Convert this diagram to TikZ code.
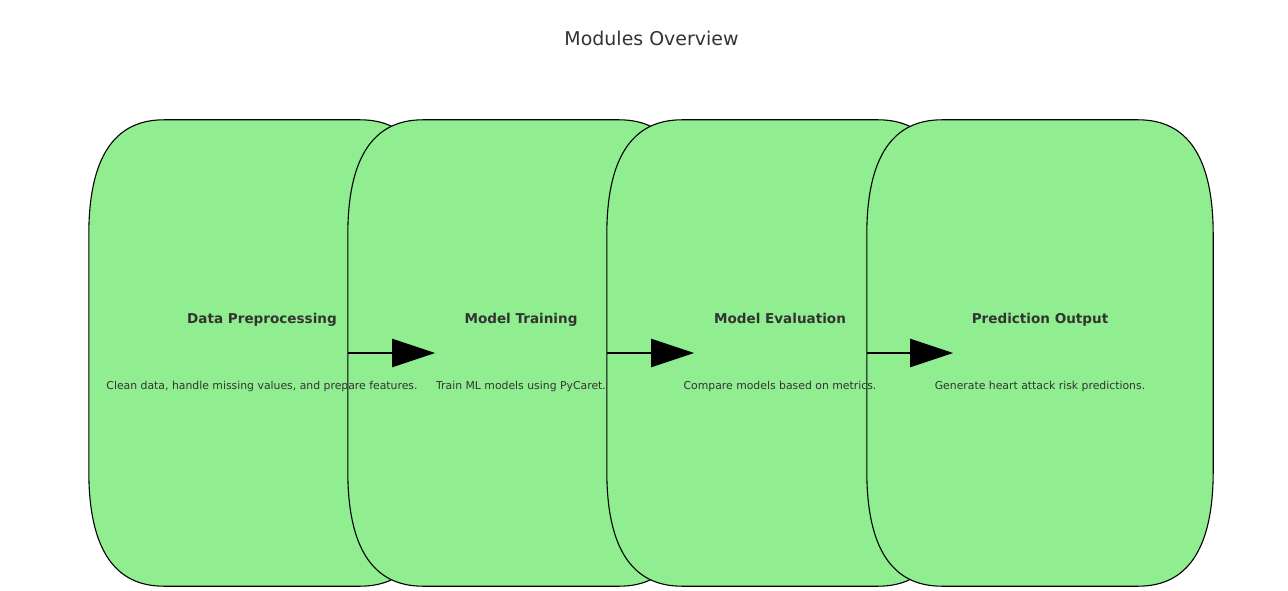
\documentclass[tikz,border=0pt]{standalone}
\usepackage{fontspec}
\setmainfont{DejaVu Sans}
\usetikzlibrary{arrows.meta}
\definecolor{boxgreen}{HTML}{90EE90}
\definecolor{txtgray}{HTML}{333333}
\tikzset{
  x=1pt, y=-1pt,
  boxframe/.style={rectangle, minimum width=346pt, minimum height=466pt, inner sep=0pt},
  boxshape/.style={fill=boxgreen, draw=black, line width=1.1pt},
  lbl/.style={text=txtgray, font=\fontsize{13.55}{16}\selectfont\bfseries, inner sep=0pt, anchor=base},
  desc/.style={text=txtgray, font=\fontsize{10.85}{13}\selectfont, inner sep=0pt, anchor=base},
  ttl/.style={text=txtgray, font=\fontsize{18.95}{22}\selectfont, inner sep=0pt, anchor=base},
  arr/.style={-{Triangle[length=43pt,width=28pt]}, line width=2pt, black},
}
\newcommand\rx{75}
\newcommand\ry{115}
\newcommand\greenbox[1]{%
  \path[boxshape]
    ([shift={(\rx,0)}]#1.north west) -- ([shift={(-\rx,0)}]#1.north east)
    .. controls ([shift={(-\rx/3,0)}]#1.north east) and ([shift={(0,\ry/3)}]#1.north east) .. ([shift={(0,\ry)}]#1.north east)
    -- ([shift={(0,-\ry)}]#1.south east)
    .. controls ([shift={(0,-\ry/3)}]#1.south east) and ([shift={(-\rx/3,0)}]#1.south east) .. ([shift={(-\rx,0)}]#1.south east)
    -- ([shift={(\rx,0)}]#1.south west)
    .. controls ([shift={(\rx/3,0)}]#1.south west) and ([shift={(0,-\ry/3)}]#1.south west) .. ([shift={(0,-\ry)}]#1.south west)
    -- ([shift={(0,\ry)}]#1.north west)
    .. controls ([shift={(0,\ry/3)}]#1.north west) and ([shift={(\rx/3,0)}]#1.north west) .. cycle;
}
\begin{document}
\begin{tikzpicture}
\useasboundingbox[fill=white] (0,0) rectangle (1288,591);
\node[ttl] (title) at (651.5,45.5) {Modules Overview};
\node[boxframe] (b1) at (262,353) {};
\node[boxframe] (b2) at (521,353) {};
\node[boxframe] (b3) at (780,353) {};
\node[boxframe] (b4) at (1040,353) {};
\greenbox{b1}
\greenbox{b2}
\greenbox{b3}
\greenbox{b4}
\node[lbl] (l1) at ([yshift=29.7pt]b1.center) {Data Preprocessing};
\node[desc] (d1) at ([yshift=-36.3pt]b1.center) {Clean data, handle missing values, and prepare features.};
\node[lbl] (l2) at ([yshift=29.7pt]b2.center) {Model Training};
\node[desc] (d2) at ([yshift=-36.3pt]b2.center) {Train ML models using PyCaret.};
\node[lbl] (l3) at ([yshift=29.7pt]b3.center) {Model Evaluation};
\node[desc] (d3) at ([yshift=-36.3pt]b3.center) {Compare models based on metrics.};
\node[lbl] (l4) at ([yshift=29.7pt]b4.center) {Prediction Output};
\node[desc] (d4) at ([yshift=-36.3pt]b4.center) {Generate heart attack risk predictions.};
\draw[arr] (b2.west) -- (b1.east);
\draw[arr] (b3.west) -- (b2.east);
\draw[arr] (b4.west) -- (b3.east);
\end{tikzpicture}
\end{document}
